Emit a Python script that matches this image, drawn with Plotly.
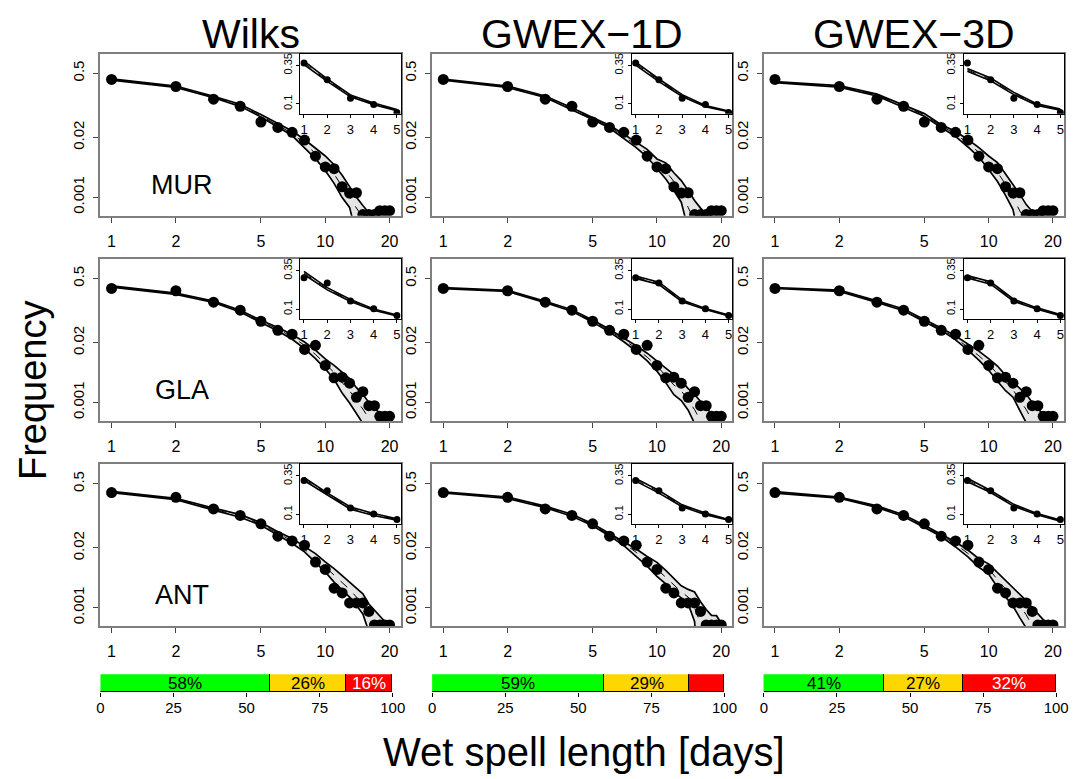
import plotly.graph_objects as go

W, H = 1081, 779
FONT = "Liberation Sans, Arial, Helvetica, sans-serif"

# ---------------- data ----------------
spell_length = list(range(1, 21))
inset_length = spell_length[:5]
models = ["Wilks", "GWEX\u22121D", "GWEX\u22123D"]
stations = ["MUR", "GLA", "ANT"]
x_tick_vals = [1, 2, 5, 10, 20]
y_tick_vals = [0.5, 0.02, 0.001]
y_tick_text = ["0.5", "0.02", "0.001"]
inset_y_tick_vals = [0.1, 0.35]
inset_y_tick_text = ["0.1", "0.35"]
bar_tick_vals = [0, 25, 50, 75, 100]

# observed frequencies
obs_MUR = [0.366, 0.257, 0.136, 0.0955, 0.0434, 0.0331, 0.0258, 0.0175, 0.0078, 0.00456,
           0.00419, 0.00169, 0.00123, 0.00125, 0.00042, 0.00042, 0.00042, 0.00051, 0.00051, 0.00051]
obs_GLA = [0.304, 0.270, 0.152, 0.102, 0.0586, 0.0372, 0.0305, 0.0143, 0.0175, 0.0064,
           0.00343, 0.00354, 0.00262, 0.00129, 0.00172, 0.00085, 0.00085, 0.00050, 0.00050, 0.00050]
obs_ANT = [0.320, 0.253, 0.141, 0.102, 0.0671, 0.0360, 0.0284, 0.0229, 0.00986, 0.00682,
           0.00266, 0.0021, 0.00127, 0.00127, 0.00127, 0.00083, 0.00042, 0.00042, 0.00042, 0.00042]

# simulated envelopes (upper, lower, median) ; 1e-5 = below the plotted range
hi_wilks_MUR = [0.378, 0.263, 0.158, 0.106, 0.063, 0.040, 0.0275, 0.0180, 0.0118, 0.0079, 0.0051, 0.0030, 0.0017, 0.00100, 0.00066, 0.00046, 0.00038, 1e-5, 1e-5, 1e-5]
lo_wilks_MUR = [0.355, 0.246, 0.146, 0.095, 0.056, 0.034, 0.0220, 0.0118, 0.0069, 0.0038, 0.0020, 0.00098, 0.00060, 0.00015, 1e-5, 1e-5, 1e-5, 1e-5, 1e-5, 1e-5]
med_wilks_MUR = [0.366, 0.254, 0.152, 0.100, 0.059, 0.037, 0.0245, 0.0146, 0.0090, 0.0055, 0.0032, 0.0017, 0.0010, 0.00060, 0.00036, 1e-5, 1e-5, 1e-5, 1e-5, 1e-5]

hi_gwex1_MUR = [0.372, 0.262, 0.160, 0.089, 0.054, 0.037, 0.0235, 0.0156, 0.0110, 0.0068, 0.0056, 0.0034, 0.0023, 0.0014, 0.00085, 0.00058, 0.00043, 0.00030, 1e-5, 1e-5]
lo_gwex1_MUR = [0.352, 0.245, 0.148, 0.081, 0.049, 0.032, 0.0190, 0.0120, 0.0075, 0.0041, 0.0025, 0.0014, 0.00078, 0.00020, 1e-5, 1e-5, 1e-5, 1e-5, 1e-5, 1e-5]
med_gwex1_MUR = [0.362, 0.253, 0.154, 0.085, 0.051, 0.0345, 0.0212, 0.0137, 0.0091, 0.0053, 0.0037, 0.0022, 0.0013, 0.00060, 0.00030, 1e-5, 1e-5, 1e-5, 1e-5, 1e-5]

hi_gwex3_MUR = [0.330, 0.268, 0.175, 0.100, 0.066, 0.038, 0.0270, 0.0180, 0.0120, 0.0079, 0.0057, 0.0032, 0.0019, 0.00115, 0.00069, 0.00049, 0.00038, 1e-5, 1e-5, 1e-5]
lo_gwex3_MUR = [0.312, 0.250, 0.160, 0.090, 0.058, 0.033, 0.0210, 0.0124, 0.0075, 0.0040, 0.0022, 0.0011, 0.00054, 0.00010, 1e-5, 1e-5, 1e-5, 1e-5, 1e-5, 1e-5]
med_gwex3_MUR = [0.321, 0.259, 0.167, 0.095, 0.062, 0.0355, 0.0238, 0.0149, 0.0095, 0.0056, 0.0035, 0.0019, 0.0010, 0.00050, 0.00030, 1e-5, 1e-5, 1e-5, 1e-5, 1e-5]

hi_wilks_GLA = [0.345, 0.240, 0.162, 0.101, 0.0615, 0.043, 0.0300, 0.0207, 0.0137, 0.0089, 0.0064, 0.0046, 0.0033, 0.0021, 0.0015, 0.00100, 0.00074, 0.00057, 0.00045, 0.00037]
lo_wilks_GLA = [0.325, 0.225, 0.150, 0.093, 0.055, 0.036, 0.0238, 0.0148, 0.0090, 0.0054, 0.0032, 0.0016, 0.00097, 0.00059, 0.00035, 1e-5, 1e-5, 1e-5, 1e-5, 1e-5]
med_wilks_GLA = [0.335, 0.232, 0.156, 0.097, 0.058, 0.0395, 0.0268, 0.0175, 0.0111, 0.0069, 0.0045, 0.0027, 0.0018, 0.0011, 0.00072, 0.00045, 0.00030, 1e-5, 1e-5, 1e-5]

hi_gwex1_GLA = [0.315, 0.275, 0.160, 0.104, 0.062, 0.039, 0.0250, 0.0172, 0.0118, 0.0079, 0.0054, 0.0040, 0.0030, 0.0020, 0.0015, 0.00105, 0.00075, 0.00057, 0.00047, 0.00040]
lo_gwex1_GLA = [0.300, 0.260, 0.148, 0.097, 0.056, 0.034, 0.0210, 0.0130, 0.0080, 0.0048, 0.0027, 0.00148, 0.00110, 0.00068, 0.00035, 1e-5, 1e-5, 1e-5, 1e-5, 1e-5]
med_gwex1_GLA = [0.307, 0.267, 0.154, 0.100, 0.059, 0.0365, 0.0230, 0.0150, 0.0097, 0.0062, 0.0038, 0.0024, 0.0018, 0.0011, 0.00070, 0.00040, 0.00030, 1e-5, 1e-5, 1e-5]

hi_gwex3_GLA = [0.318, 0.278, 0.163, 0.108, 0.064, 0.042, 0.0280, 0.0190, 0.0131, 0.0090, 0.0062, 0.0039, 0.0028, 0.0020, 0.0015, 0.00100, 0.00072, 0.00055, 0.00043, 0.00036]
lo_gwex3_GLA = [0.302, 0.262, 0.150, 0.099, 0.057, 0.037, 0.0230, 0.0138, 0.0083, 0.0050, 0.0029, 0.0018, 0.0013, 0.00065, 0.00036, 1e-5, 1e-5, 1e-5, 1e-5, 1e-5]
med_gwex3_GLA = [0.310, 0.270, 0.156, 0.103, 0.060, 0.0395, 0.0254, 0.0162, 0.0104, 0.0067, 0.0042, 0.0027, 0.0019, 0.0011, 0.00070, 0.00040, 0.00030, 1e-5, 1e-5, 1e-5]

hi_wilks_ANT = [0.340, 0.240, 0.148, 0.106, 0.071, 0.045, 0.0320, 0.0210, 0.0150, 0.0099, 0.0071, 0.0050, 0.0036, 0.0027, 0.0020, 0.0012, 0.00086, 0.00066, 0.00050, 0.00042]
lo_wilks_ANT = [0.320, 0.225, 0.133, 0.093, 0.062, 0.038, 0.0250, 0.0164, 0.0098, 0.0060, 0.0036, 0.0024, 0.0017, 0.00111, 0.00073, 0.00030, 1e-5, 1e-5, 1e-5, 1e-5]
med_wilks_ANT = [0.330, 0.232, 0.140, 0.099, 0.066, 0.0415, 0.0283, 0.0186, 0.0121, 0.0077, 0.0051, 0.0035, 0.0025, 0.0017, 0.0012, 0.00062, 0.00038, 1e-5, 1e-5, 1e-5]

hi_gwex1_ANT = [0.334, 0.255, 0.162, 0.108, 0.067, 0.0415, 0.0280, 0.0190, 0.0130, 0.0097, 0.0065, 0.0044, 0.0030, 0.0025, 0.0022, 0.00135, 0.00091, 0.00068, 0.00067, 0.00046]
lo_gwex1_ANT = [0.316, 0.238, 0.150, 0.098, 0.061, 0.0365, 0.0225, 0.0132, 0.0080, 0.0048, 0.0033, 0.0022, 0.00165, 0.00122, 0.00050, 1e-5, 1e-5, 1e-5, 1e-5, 1e-5]
med_gwex1_ANT = [0.325, 0.246, 0.156, 0.103, 0.064, 0.0390, 0.0252, 0.0160, 0.0103, 0.0068, 0.0046, 0.0031, 0.0022, 0.0017, 0.0010, 0.00045, 0.00030, 1e-5, 1e-5, 1e-5]

hi_gwex3_ANT = [0.335, 0.255, 0.165, 0.105, 0.0625, 0.0405, 0.0270, 0.0180, 0.0116, 0.0090, 0.0059, 0.0039, 0.0028, 0.0020, 0.00142, 0.00100, 0.00072, 0.00055, 0.00047, 0.00040]
lo_gwex3_ANT = [0.312, 0.242, 0.152, 0.097, 0.056, 0.0355, 0.0210, 0.0128, 0.0076, 0.0054, 0.0028, 0.0017, 0.00109, 0.00060, 0.00036, 1e-5, 1e-5, 1e-5, 1e-5, 1e-5]
med_gwex3_ANT = [0.323, 0.248, 0.158, 0.101, 0.059, 0.0380, 0.0240, 0.0152, 0.0094, 0.0070, 0.0041, 0.0026, 0.0017, 0.0011, 0.00070, 0.00040, 0.00030, 1e-5, 1e-5, 1e-5]

# score bars (percent of stations: good / medium / bad)
score_good = [58, 59, 41]
score_mid = [26, 29, 27]
score_bad = [16, 12, 32]
label_good = ["58%", "59%", "41%"]
label_mid = ["26%", "29%", "27%"]
label_bad = ["16%", "", "32%"]

obs = {"MUR": obs_MUR, "GLA": obs_GLA, "ANT": obs_ANT}
env = {
    (0, "MUR"): (hi_wilks_MUR, lo_wilks_MUR, med_wilks_MUR),
    (1, "MUR"): (hi_gwex1_MUR, lo_gwex1_MUR, med_gwex1_MUR),
    (2, "MUR"): (hi_gwex3_MUR, lo_gwex3_MUR, med_gwex3_MUR),
    (0, "GLA"): (hi_wilks_GLA, lo_wilks_GLA, med_wilks_GLA),
    (1, "GLA"): (hi_gwex1_GLA, lo_gwex1_GLA, med_gwex1_GLA),
    (2, "GLA"): (hi_gwex3_GLA, lo_gwex3_GLA, med_gwex3_GLA),
    (0, "ANT"): (hi_wilks_ANT, lo_wilks_ANT, med_wilks_ANT),
    (1, "ANT"): (hi_gwex1_ANT, lo_gwex1_ANT, med_gwex1_ANT),
    (2, "ANT"): (hi_gwex3_ANT, lo_gwex3_ANT, med_gwex3_ANT),
}

# ---------------- layout geometry (pixels) ----------------
col_left = [98, 435, 772]
panel_w = 305
row_top = [53, 258.5, 464]
panel_h = 162
inset_dx, inset_w, inset_h = 203, 102, 60
bar_top, bar_bot, bar_w = 674, 692, 297

fig = go.Figure()
layout = {}
annotations = []
n_ax = [0]


def add_axes(x0, x1, y0, y1, xcfg, ycfg):
    n_ax[0] += 1
    s = "" if n_ax[0] == 1 else str(n_ax[0])
    layout["xaxis" + s] = dict(domain=[x0 / W, x1 / W], anchor="y" + s, **xcfg)
    layout["yaxis" + s] = dict(domain=[1 - y1 / H, 1 - y0 / H], anchor="x" + s, **ycfg)
    return "x" + s, "y" + s


common = dict(showgrid=False, zeroline=False, showline=True, mirror=True, ticks="outside")
main_x = dict(common, type="log", range=[-0.052, 1.353], tickvals=x_tick_vals,
              ticktext=[str(v) for v in x_tick_vals], ticklen=5, tickcolor="#444",
              linecolor="#7f7f7f", linewidth=2, ticklabelstandoff=5,
              tickfont=dict(family=FONT, size=16, color="black"))
main_y = dict(common, type="log", range=[-3.403, 0.119], tickvals=y_tick_vals,
              ticktext=y_tick_text, tickangle=-90, ticklen=5, tickcolor="#444",
              linecolor="#7f7f7f", linewidth=2, ticklabelstandoff=3,
              tickfont=dict(family=FONT, size=15, color="black"))
ins_x = dict(common, range=[0.84, 5.16], tickvals=inset_length,
             ticktext=[str(v) for v in inset_length], ticklen=3, tickcolor="black",
             linecolor="black", linewidth=1.3, ticklabelstandoff=0,
             tickfont=dict(family=FONT, size=13, color="black"))
ins_y = dict(common, range=[0.035, 0.425], tickvals=inset_y_tick_vals,
             ticktext=inset_y_tick_text, tickangle=-90, ticklen=3, tickcolor="black",
             linecolor="black", linewidth=1.3, ticklabelstandoff=0,
             tickfont=dict(family=FONT, size=11, color="black"))


def draw_panel(xr, yr, xs, hi, lo, med, ob, msize, lw):
    fig.add_trace(go.Scatter(x=xs + xs[::-1], y=hi + lo[::-1], xaxis=xr, yaxis=yr,
                             fill="toself", fillcolor="#e5e5e5", mode="lines",
                             line=dict(width=0), hoverinfo="skip", showlegend=False))
    fig.add_trace(go.Scatter(x=xs, y=med, xaxis=xr, yaxis=yr, mode="lines",
                             line=dict(color="black", width=1, dash="dash"),
                             showlegend=False))
    for arr in (hi, lo):
        fig.add_trace(go.Scatter(x=xs, y=arr, xaxis=xr, yaxis=yr, mode="lines",
                                 line=dict(color="black", width=lw), showlegend=False))
    fig.add_trace(go.Scatter(x=xs, y=ob, xaxis=xr, yaxis=yr, mode="markers",
                             marker=dict(color="black", size=msize), showlegend=False))


for r, st in enumerate(stations):
    for c in range(3):
        hi, lo, med = env[(c, st)]
        x0, y0 = col_left[c], row_top[r]
        xr, yr = add_axes(x0, x0 + panel_w, y0, y0 + panel_h, main_x, main_y)
        draw_panel(xr, yr, spell_length, hi, lo, med, obs[st], 11, 1.7)
        xr, yr = add_axes(x0 + inset_dx, x0 + inset_dx + inset_w, y0, y0 + inset_h,
                          ins_x, ins_y)
        draw_panel(xr, yr, inset_length, hi[:5], lo[:5], med[:5], obs[st][:5], 7, 1.6)

# score bars
bar_x = dict(showgrid=False, zeroline=False, showline=False, range=[0, 100],
             tickvals=bar_tick_vals, ticktext=[str(v) for v in bar_tick_vals],
             ticks="outside", ticklen=4, tickcolor="black", ticklabelstandoff=-2,
             tickfont=dict(family=FONT, size=15, color="black"))
bar_y = dict(showgrid=False, zeroline=False, showline=False, range=[-0.5, 0.5],
             showticklabels=False, ticks="")
for c in range(3):
    xr, yr = add_axes(col_left[c], col_left[c] + bar_w, bar_top, bar_bot, bar_x, bar_y)
    start = 0
    for vals, labs, colr, tcol in ((score_good, label_good, "#00ff00", "black"),
                                   (score_mid, label_mid, "#ffd700", "black"),
                                   (score_bad, label_bad, "#ff0000", "white")):
        fig.add_trace(go.Bar(x=[vals[c]], y=[0], orientation="h", xaxis=xr, yaxis=yr,
                             marker=dict(color=colr, line=dict(color="black", width=1.2)),
                             width=1, showlegend=False))
        if labs[c]:
            annotations.append(dict(text=labs[c], x=start + vals[c] / 2, y=0,
                                    xref=xr, yref=yr, showarrow=False,
                                    font=dict(family=FONT, size=17, color=tcol),
                                    xanchor="center", yanchor="middle"))
        start += vals[c]

for c, m in enumerate(models):
    annotations.append(dict(text=m, x=(col_left[c] + panel_w / 2) / W, y=1 - 33 / H,
                            xref="paper", yref="paper", showarrow=False,
                            font=dict(family=FONT, size=41, color="black"),
                            xanchor="center", yanchor="middle"))
for r, st in enumerate(stations):
    annotations.append(dict(text=st, x=(col_left[0] + 83) / W,
                            y=1 - (row_top[r] + 131) / H, xref="paper", yref="paper",
                            showarrow=False, font=dict(family=FONT, size=27, color="black"),
                            xanchor="center", yanchor="middle"))
annotations.append(dict(text="Frequency", x=30 / W, y=1 - 390 / H, xref="paper",
                        yref="paper", showarrow=False, textangle=-90,
                        font=dict(family=FONT, size=38, color="black"),
                        xanchor="center", yanchor="middle"))
annotations.append(dict(text="Wet spell length [days]", x=589 / W, y=1 - 752 / H,
                        xref="paper", yref="paper", showarrow=False,
                        font=dict(family=FONT, size=40, color="black"),
                        xanchor="center", yanchor="middle"))

fig.update_layout(width=W, height=H, margin=dict(l=0, r=0, t=0, b=0),
                  paper_bgcolor="white", plot_bgcolor="white", barmode="stack",
                  bargap=0, showlegend=False, annotations=annotations,
                  font=dict(family=FONT), **layout)
fig.write_html("out.html")
